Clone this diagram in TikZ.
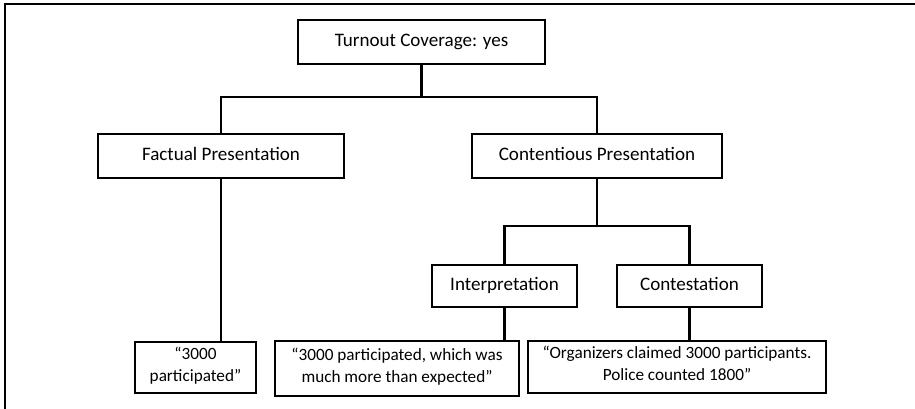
\documentclass[tikz,border=0pt]{standalone}
\usepackage{fontspec}
\setmainfont{Carlito}
\begin{document}
\begin{tikzpicture}[x=0.75pt, y=-0.75pt]
	\tikzstyle{box}   = [rectangle, draw=black, line width=1.6pt, fill=white, align=center, inner sep=2pt, font=\fontsize{14.3}{16.5}\selectfont, execute at begin node=\strut, execute at end node=\strut]
	\tikzstyle{quote} = [box, font=\fontsize{12.9}{16.5}\selectfont]
	\tikzstyle{link}  = [draw=black, line width=2pt]

	\useasboundingbox (0,0) rectangle (915,409);
	\draw[line width=0.8pt] (5,409) -- (5,4) -- (915,4);

	\foreach \name/\x/\y/\w/\h/\txt in {top/421.5/42/247/44/{Turnout Coverage: yes},
		fact/221/156/246/44/{Factual Presentation}, cont/597/156/250/44/{Contentious Presentation},
		interp/504.5/286/145/42/{Interpretation}, contest/689.5/286/145/42/{Contestation}}
		\node[box, minimum width=\w*0.75pt, minimum height=\h*0.75pt] (\name) at (\x, \y) {\txt};

	\foreach \name/\x/\y/\w/\h/\txt in {q1/195.5/367.5/121/51/{“3000\\participated”},
		q2/397/368.5/244/55/{“3000 participated, which was\\much more than expected”},
		q3/677/367/298/52/{“Organizers claimed 3000 participants.\\Police counted 1800”}}
		\node[quote, minimum width=\w*0.75pt, minimum height=\h*0.75pt] (\name) at (\x, \y) {\txt};

	\coordinate (hubA) at (421.5, 97);
	\coordinate (hubB) at (597, 226);

	\draw[link] (top) -- (hubA);
	\draw[link] (fact) |- (hubA) -| (cont);
	\draw[link] (cont) -- (hubB);
	\draw[link] (interp) |- (hubB) -| (contest);

	\foreach \from/\to in {fact/q1, interp/q2, contest/q3}
		\draw[link] (\from.south) -- (\from.south |- \to.north);
\end{tikzpicture}
\end{document}
